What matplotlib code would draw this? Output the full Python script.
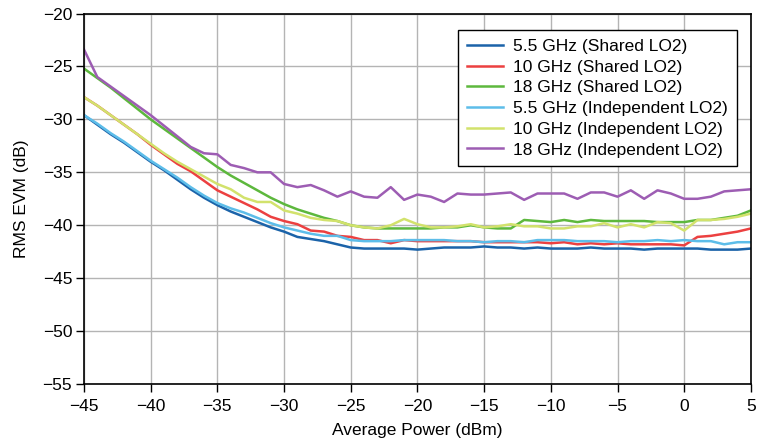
import numpy as np
import matplotlib
matplotlib.use("Agg")
import matplotlib.pyplot as plt

plt.rcParams['font.family'] = ['Liberation Sans', 'DejaVu Sans']

power = list(range(-45, 6))

evm_55_shared = [-29.6, -30.5, -31.4, -32.2, -33.1, -34.0, -34.8, -35.7, -36.6, -37.4,
                 -38.1, -38.7, -39.2, -39.7, -40.2, -40.6, -41.1, -41.3, -41.5, -41.8,
                 -42.1, -42.2, -42.2, -42.2, -42.2, -42.3, -42.2, -42.1, -42.1, -42.1,
                 -42.0, -42.1, -42.1, -42.2, -42.1, -42.2, -42.2, -42.2, -42.1, -42.2,
                 -42.2, -42.2, -42.3, -42.2, -42.2, -42.2, -42.2, -42.3, -42.3, -42.3, -42.2]
evm_10_shared = [-27.9, -28.7, -29.6, -30.5, -31.4, -32.4, -33.3, -34.2, -34.9, -35.8,
                 -36.7, -37.3, -37.9, -38.5, -39.2, -39.6, -39.9, -40.5, -40.6, -41.0,
                 -41.1, -41.4, -41.4, -41.7, -41.4, -41.5, -41.5, -41.5, -41.5, -41.5,
                 -41.6, -41.6, -41.6, -41.6, -41.6, -41.7, -41.6, -41.8, -41.7, -41.8,
                 -41.7, -41.8, -41.8, -41.8, -41.8, -41.9, -41.1, -41.0, -40.8, -40.6, -40.3]
evm_18_shared = [-25.2, -26.1, -27.0, -28.0, -29.0, -30.0, -30.9, -31.8, -32.7, -33.6,
                 -34.5, -35.3, -36.0, -36.7, -37.4, -38.0, -38.5, -38.9, -39.3, -39.6,
                 -40.0, -40.2, -40.3, -40.3, -40.3, -40.3, -40.3, -40.2, -40.2, -40.0,
                 -40.2, -40.3, -40.3, -39.5, -39.6, -39.7, -39.5, -39.7, -39.5, -39.6,
                 -39.6, -39.6, -39.6, -39.7, -39.7, -39.7, -39.5, -39.5, -39.3, -39.1, -38.6]
evm_55_indep = [-29.6, -30.4, -31.3, -32.1, -33.0, -33.9, -34.7, -35.5, -36.4, -37.2,
                -37.9, -38.4, -38.8, -39.3, -39.8, -40.2, -40.5, -40.8, -41.0, -41.0,
                -41.4, -41.5, -41.5, -41.5, -41.4, -41.4, -41.4, -41.4, -41.5, -41.5,
                -41.6, -41.5, -41.5, -41.6, -41.4, -41.4, -41.4, -41.5, -41.5, -41.5,
                -41.6, -41.5, -41.5, -41.4, -41.5, -41.4, -41.5, -41.5, -41.8, -41.6, -41.6]
evm_10_indep = [-27.9, -28.7, -29.6, -30.5, -31.4, -32.3, -33.2, -34.0, -34.7, -35.4,
                -36.1, -36.6, -37.4, -37.8, -37.8, -38.6, -38.9, -39.3, -39.5, -39.6,
                -40.0, -40.2, -40.3, -40.0, -39.4, -39.9, -40.2, -40.2, -40.1, -39.9,
                -40.2, -40.1, -39.9, -40.1, -40.1, -40.3, -40.3, -40.1, -40.1, -39.8,
                -40.2, -39.9, -40.2, -39.7, -39.8, -40.5, -39.5, -39.5, -39.4, -39.2, -38.9]
evm_18_indep = [-23.4, -26.0, -26.9, -27.8, -28.7, -29.6, -30.6, -31.6, -32.6, -33.2,
                -33.3, -34.3, -34.6, -35.0, -35.0, -36.1, -36.4, -36.2, -36.7, -37.3,
                -36.8, -37.3, -37.4, -36.4, -37.6, -37.1, -37.3, -37.8, -37.0, -37.1,
                -37.1, -37.0, -36.9, -37.6, -37.0, -37.0, -37.0, -37.5, -36.9, -36.9,
                -37.3, -36.7, -37.5, -36.7, -37.0, -37.5, -37.5, -37.3, -36.8, -36.7, -36.6]

labels = ["5.5 GHz (Shared LO2)", "10 GHz (Shared LO2)", "18 GHz (Shared LO2)",
          "5.5 GHz (Independent LO2)", "10 GHz (Independent LO2)", "18 GHz (Independent LO2)"]
colors = ["#1b63a9", "#ec4040", "#5db83d", "#5dbde9", "#d2e26c", "#9d5db3"]
series = [evm_55_shared, evm_10_shared, evm_18_shared, evm_55_indep, evm_10_indep, evm_18_indep]

fig = plt.figure(figsize=(7.6, 4.43), dpi=100)
ax = fig.add_axes([0.1105, 0.133, 0.8775, 0.8365])

for vals, c, lab in zip(series, colors, labels):
    ax.plot(power, vals, color=c, lw=1.8, label=lab)

ax.set_xlim(-45, 5)
ax.set_ylim(-55, -20)
ax.set_xticks(np.arange(-45, 6, 5))
ax.set_yticks(np.arange(-55, -19, 5))
ax.set_xticklabels(["\u2212%d" % -v if v < 0 else str(v) for v in range(-45, 6, 5)])
ax.set_yticklabels(["\u2212%d" % -v for v in range(-55, -19, 5)])
ax.grid(True, color="#b4b4b4", lw=1)
ax.set_axisbelow(True)
for s in ax.spines.values():
    s.set_color("black")
    s.set_linewidth(1.2)
ax.tick_params(labelsize=12.5, length=5.5, width=1, colors="black")
ax.tick_params(axis="x", pad=5)
ax.tick_params(axis="y", pad=3)

ax.set_xlabel("Average Power (dBm)", fontsize=12.5, labelpad=7)
ax.set_ylabel("RMS EVM (dB)", fontsize=12.5, labelpad=10)

leg = ax.legend(loc="upper right", bbox_to_anchor=(0.979, 0.955), borderaxespad=0,
                fontsize=12.5, frameon=True, fancybox=False, edgecolor="black",
                framealpha=1, handlelength=2.1, handletextpad=0.6,
                labelspacing=0.32, borderpad=0.5)
leg.get_frame().set_linewidth(1.0)

fig.savefig("out.png", dpi=100)
